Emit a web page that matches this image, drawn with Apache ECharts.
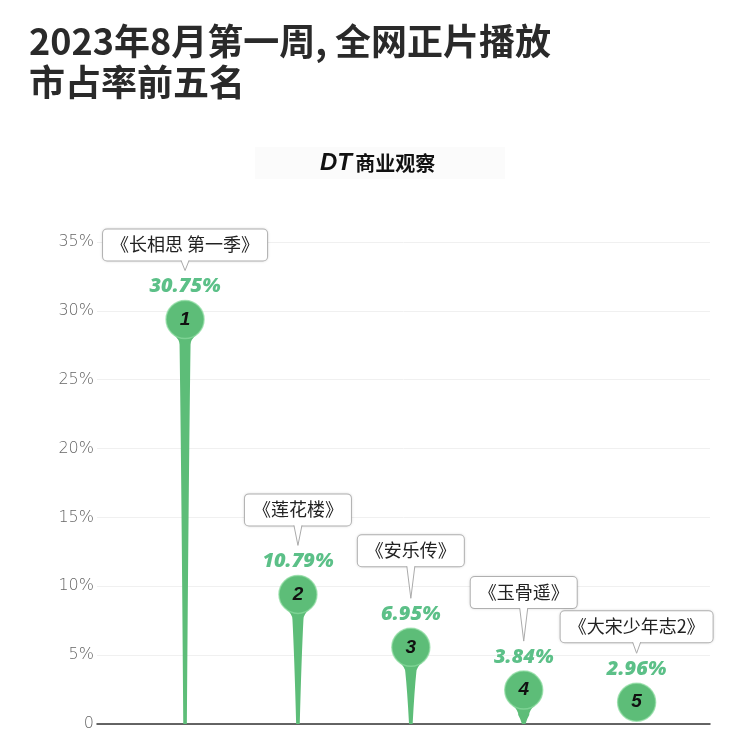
<!DOCTYPE html>
<html>
<head>
<meta charset="utf-8">
<script src="https://cdn.jsdelivr.net/npm/echarts@6/dist/echarts.min.js"></script>
<style>
  html, body { margin: 0; padding: 0; background: #fff; }
  #chart { width: 754px; height: 732px; }
</style>
</head>
<body>
<div id="chart"></div>
<script>
// data
const titles = ['《长相思 第一季》', '《莲花楼》', '《安乐传》', '《玉骨遥》', '《大宋少年志2》'];
const ranks = ['1', '2', '3', '4', '5'];
const shares = [30.75, 10.79, 6.95, 3.84, 2.96];

// callout pointer length per item (layout only)
const pointerLen = [10, 20, 32, 33, 11];

const green = '#5dbd78';
const cjk = '"Noto Sans CJK SC", "Noto Sans", sans-serif';

const chart = echarts.init(document.getElementById('chart'));

function renderItem(params, api) {
    const i = params.dataIndex;
    const top = api.coord([api.value(0), api.value(1)]);
    const base = api.coord([api.value(0), 0]);
    const x = top[0], vy = top[1], by = base[1];
    const r = 19;
    const cy = vy + r;
    const neck = cy + r + 6;
    const tip = vy - 30;
    const boxBottom = tip - pointerLen[i];

    const children = [];
    // tapered stem with a small neck under the ball
    if (neck < by - 2) {
        const midY = neck + (by - neck) * 0.35;
        children.push({
            type: 'path',
            shape: {
                pathData: 'M' + (x - 1.8) + ' ' + by +
                    ' Q' + (x - 3.6) + ' ' + midY + ' ' + (x - 5.5) + ' ' + neck +
                    ' Q' + (x - 5.5) + ' ' + (cy + r + 1) + ' ' + (x - r * 0.6) + ' ' + (cy + r * 0.8) +
                    ' L' + (x + r * 0.6) + ' ' + (cy + r * 0.8) +
                    ' Q' + (x + 5.5) + ' ' + (cy + r + 1) + ' ' + (x + 5.5) + ' ' + neck +
                    ' Q' + (x + 3.6) + ' ' + midY + ' ' + (x + 1.8) + ' ' + by + ' Z'
            },
            style: { fill: green }
        });
    }
    children.push({
        type: 'circle',
        shape: { cx: x, cy: cy, r: r },
        style: { fill: green, stroke: 'rgba(140,220,160,0.7)', lineWidth: 1.5 }
    });
    children.push({
        type: 'text',
        style: {
            x: x, y: cy, text: ranks[i], align: 'center', verticalAlign: 'middle',
            fill: '#111', font: 'italic 900 19px "Liberation Sans", Arial, sans-serif'
        }
    });
    // percentage label
    children.push({
        type: 'text',
        style: {
            x: x, y: vy - 14, text: shares[i].toFixed(2) + '%', align: 'center', verticalAlign: 'middle',
            fill: '#5cc088', font: 'italic 800 20px "Open Sans", sans-serif'
        }
    });
    // callout box
    children.push({
        type: 'text',
        style: {
            x: x, y: boxBottom, text: titles[i], align: 'center', verticalAlign: 'bottom',
            fill: '#222', font: '18px ' + cjk,
            backgroundColor: '#fff', borderColor: '#b8b8b8', borderWidth: 1, borderRadius: 4,
            padding: [6, 8, 7, 8],
            shadowColor: 'rgba(0,0,0,0.12)', shadowBlur: 3
        }
    });
    // pointer
    children.push({
        type: 'polygon',
        shape: { points: [[x - 4, boxBottom - 1.5], [x, tip], [x + 4, boxBottom - 1.5]] },
        style: { fill: '#fff' }
    });
    children.push({
        type: 'polyline',
        shape: { points: [[x - 4, boxBottom], [x, tip], [x + 4, boxBottom]] },
        style: { stroke: '#aaa', lineWidth: 1, fill: null }
    });
    return { type: 'group', children: children };
}

const option = {
    animation: false,
    title: {
        text: '2023年8月第一周, 全网正片播放\n市占率前五名',
        left: 24,
        top: 16,
        textStyle: {
            fontFamily: cjk,
            fontSize: 36,
            fontWeight: 'bold',
            lineHeight: 41,
            color: '#2a2a2a'
        }
    },
    graphic: [{
        type: 'rect',
        shape: { x: 255, y: 147, width: 250, height: 32 },
        style: { fill: '#fbfbfb' },
        z: -1
    }, {
        type: 'text',
        x: 320,
        y: 163,
        style: {
            text: '{a|DT} {b|商业观察}',
            verticalAlign: 'middle',
            rich: {
                a: { fontFamily: '"Liberation Sans", Arial', fontStyle: 'italic', fontWeight: 900, fontSize: 24, fill: '#111' },
                b: { fontFamily: cjk, fontWeight: 'bold', fontSize: 20, fill: '#111' }
            }
        }
    }],
    grid: { left: 97, right: 44, top: 242, bottom: 3 },
    xAxis: {
        type: 'value',
        min: -0.78,
        max: 4.65,
        axisLine: { show: true, onZero: true, lineStyle: { color: '#333', width: 1.5 } },
        axisTick: { show: false },
        axisLabel: { show: false },
        splitLine: { show: false }
    },
    yAxis: {
        type: 'value',
        min: 0,
        max: 35,
        interval: 5,
        axisLine: { show: false },
        axisTick: { show: false },
        axisLabel: {
            color: '#666',
            fontSize: 16,
            fontFamily: '"DejaVu Sans", sans-serif',
            fontWeight: 200,
            margin: 3,
            formatter: v => v === 0 ? '0' : v + '%'
        },
        splitLine: { lineStyle: { color: '#f0f0f0', width: 1 } }
    },
    series: [{
        type: 'custom',
        renderItem: renderItem,
        clip: false,
        encode: { x: 0, y: 1 },
        data: shares.map((v, i) => [i, v]),
        z: 5
    }]
};

chart.setOption(option);
</script>
</body>
</html>
